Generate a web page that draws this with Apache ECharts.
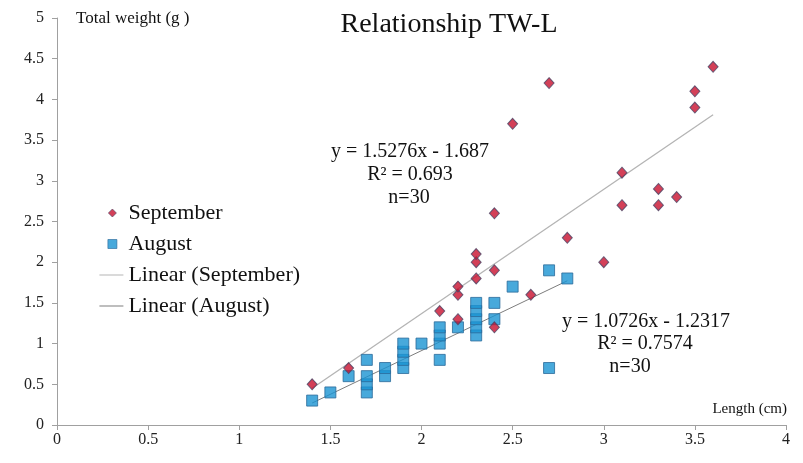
<!DOCTYPE html>
<html>
<head>
<meta charset="utf-8">
<script src="https://cdn.jsdelivr.net/npm/echarts@6/dist/echarts.min.js"></script>
<style>
  html, body { margin: 0; padding: 0; background: #fff; }
  #main { width: 803px; height: 463px; }
</style>
</head>
<body>
<div id="main"></div>
<script>
// September: length (cm), total weight (g)
const septLength = [1.4, 1.6, 2.1, 2.2, 2.2, 2.2, 2.3, 2.3, 2.3, 2.4, 2.4, 2.4, 2.5, 2.6, 2.7, 2.8, 3.0, 3.1, 3.1, 3.3, 3.3, 3.4, 3.5, 3.5, 3.6];
const septWeight = [0.5, 0.7, 1.4, 1.3, 1.6, 1.7, 1.8, 2.0, 2.1, 1.2, 1.9, 2.6, 3.7, 1.6, 4.2, 2.3, 2.0, 3.1, 2.7, 2.9, 2.7, 2.8, 3.9, 4.1, 4.4];

// August
const augLength = [1.4, 1.5, 1.6, 1.7, 1.7, 1.7, 1.7, 1.8, 1.8, 1.9, 1.9, 1.9, 1.9, 2.0, 2.1, 2.1, 2.1, 2.1, 2.2, 2.3, 2.3, 2.3, 2.3, 2.3, 2.4, 2.4, 2.5, 2.7, 2.7, 2.8];
const augWeight = [0.3, 0.4, 0.6, 0.8, 0.4, 0.5, 0.6, 0.6, 0.7, 0.7, 0.8, 0.9, 1.0, 1.0, 0.8, 1.0, 1.1, 1.2, 1.2, 1.1, 1.2, 1.3, 1.4, 1.5, 1.3, 1.5, 1.7, 1.9, 0.7, 1.8];

// trend lines as printed on the chart
const septFit = { slope: 1.5276, intercept: -1.687, r2: '0.693', n: 30 };
const augFit = { slope: 1.0726, intercept: -1.2317, r2: '0.7574', n: 30 };

const xTicks = [0, 0.5, 1, 1.5, 2, 2.5, 3, 3.5, 4];
const yTicks = [0, 0.5, 1, 1.5, 2, 2.5, 3, 3.5, 4, 4.5, 5];

const serif = '"Liberation Serif", "DejaVu Serif", serif';

function pairs(xs, ys) {
  return xs.map((x, i) => [x, ys[i]]);
}

// Excel-style trendline: spans the data's x range
function fitLine(xs, fit) {
  const lo = Math.min(...xs), hi = Math.max(...xs);
  return [lo, hi].map(x => [x, fit.slope * x + fit.intercept]);
}

function eqText(fit) {
  return ['y = ' + fit.slope + 'x - ' + Math.abs(fit.intercept), 'R² = ' + fit.r2, 'n=' + fit.n];
}

// legend icons: the two corner points fix the box so nothing gets stretched
const box = 'M0,0L0,0M24,10L24,10';
const iconDiamond = 'path://' + box + 'M13,1L17,5L13,9L9,5Z';
const iconSquare = 'path://' + box + 'M8.5,0.5L17.5,0.5L17.5,9.5L8.5,9.5Z';
const iconLine = 'path://' + box + 'M0,4.5L24,4.5L24,5.5L0,5.5Z';

const colSept = '#c8102e', colSeptBorder = '#4b4565';
const colAug = '#1a94d2', colAugBorder = '#2a6a9a';
const colSeptLine = '#b4b4b4', colAugLine = '#7d7d7d';

const chart = echarts.init(document.getElementById('main'));

const eq1 = eqText(septFit);
const eq2 = eqText(augFit);

const option = {
  backgroundColor: '#fff',
  animation: false,
  textStyle: { fontFamily: serif },
  grid: { left: 57, right: 17, top: 18, bottom: 38, containLabel: false },
  xAxis: {
    type: 'value',
    min: xTicks[0],
    max: xTicks[xTicks.length - 1],
    interval: 0.5,
    splitLine: { show: false },
    axisLine: { lineStyle: { color: '#a0a0a0', width: 1 } },
    axisTick: { show: true, length: 5, lineStyle: { color: '#a0a0a0' } },
    axisLabel: { color: '#222', fontSize: 16, margin: 7, fontFamily: serif }
  },
  yAxis: {
    type: 'value',
    min: yTicks[0],
    max: yTicks[yTicks.length - 1],
    interval: 0.5,
    splitLine: { show: false },
    axisLine: { show: true, lineStyle: { color: '#a0a0a0', width: 1 } },
    axisTick: { show: true, length: 5, lineStyle: { color: '#a0a0a0' } },
    axisLabel: { color: '#222', fontSize: 16, margin: 13, fontFamily: serif }
  },
  legend: {
    orient: 'vertical',
    left: 94,
    top: 197,
    itemGap: 9,
    itemWidth: 24,
    itemHeight: 10,
    textStyle: { fontSize: 22, lineHeight: 22, color: '#111', fontFamily: serif },
    data: [
      { name: 'September', icon: iconDiamond, itemStyle: { color: colSept, borderColor: colSeptBorder, borderWidth: 0.8 } },
      { name: 'August', icon: iconSquare, itemStyle: { color: colAug, borderColor: colAugBorder, borderWidth: 0.8 } },
      { name: 'Linear (September)', icon: iconLine, itemStyle: { color: colSeptLine, borderWidth: 0 } },
      { name: 'Linear (August)', icon: iconLine, itemStyle: { color: colAugLine, borderWidth: 0 } }
    ]
  },
  series: [
    {
      name: 'Linear (September)',
      type: 'line',
      data: fitLine(septLength, septFit),
      symbol: 'none',
      itemStyle: { color: colSeptLine },
      lineStyle: { color: colSeptLine, width: 1.3 },
      z: 1
    },
    {
      name: 'Linear (August)',
      type: 'line',
      data: fitLine(augLength, augFit),
      symbol: 'none',
      itemStyle: { color: colAugLine },
      lineStyle: { color: colAugLine, width: 1 },
      z: 1
    },
    {
      name: 'September',
      type: 'scatter',
      data: pairs(septLength, septWeight),
      symbol: 'diamond',
      symbolSize: [10, 11],
      itemStyle: { color: colSept, borderColor: colSeptBorder, borderWidth: 1 },
      z: 3
    },
    {
      name: 'August',
      type: 'scatter',
      data: pairs(augLength, augWeight),
      symbol: 'rect',
      symbolSize: 11,
      itemStyle: { color: colAug, borderColor: colAugBorder, borderWidth: 1 },
      z: 2
    }
  ],
  graphic: [
    { type: 'text', x: 449, y: 25, style: { text: 'Relationship TW-L', font: '28px ' + serif, fill: '#111', align: 'center', verticalAlign: 'middle' }, z: 10 },
    { type: 'text', x: 76, y: 19, style: { text: 'Total weight (g )', font: '17px ' + serif, fill: '#111', verticalAlign: 'middle' }, z: 10 },
    { type: 'text', x: 787, y: 409, style: { text: 'Length (cm)', font: '15px ' + serif, fill: '#111', align: 'right', verticalAlign: 'middle' }, z: 10 },
    { type: 'text', x: 410, y: 152, style: { text: eq1[0], font: '20px ' + serif, fill: '#111', align: 'center', verticalAlign: 'middle' }, z: 10 },
    { type: 'text', x: 410, y: 175, style: { text: eq1[1], font: '20px ' + serif, fill: '#111', align: 'center', verticalAlign: 'middle' }, z: 10 },
    { type: 'text', x: 409, y: 198, style: { text: eq1[2], font: '20px ' + serif, fill: '#111', align: 'center', verticalAlign: 'middle' }, z: 10 },
    { type: 'text', x: 646, y: 322, style: { text: eq2[0], font: '20px ' + serif, fill: '#111', align: 'center', verticalAlign: 'middle' }, z: 10 },
    { type: 'text', x: 645, y: 344, style: { text: eq2[1], font: '20px ' + serif, fill: '#111', align: 'center', verticalAlign: 'middle' }, z: 10 },
    { type: 'text', x: 630, y: 367, style: { text: eq2[2], font: '20px ' + serif, fill: '#111', align: 'center', verticalAlign: 'middle' }, z: 10 }
  ]
};

chart.setOption(option);
</script>
</body>
</html>
